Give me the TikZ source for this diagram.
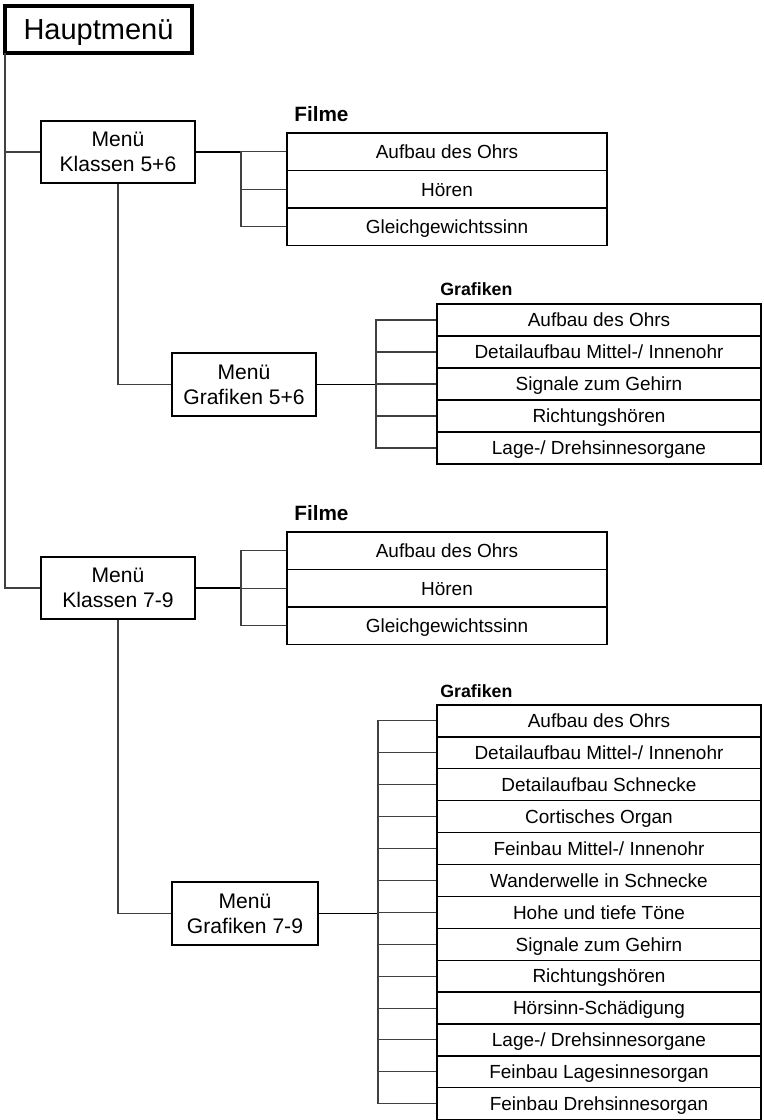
\documentclass[tikz,border=0pt]{standalone}
\usepackage{fontspec}
\setmainfont{Liberation Sans}
\begin{document}
\begin{tikzpicture}[x=0.02cm, y=-0.02cm,
	menu/.style={draw, line width=0.75pt, inner sep=0pt, align=center, font=\fontsize{12}{14.3}\selectfont},
	item/.style={draw, line width=0.7pt, inner sep=0pt, text height=7.7pt, text depth=0pt, font=\fontsize{10.8}{12}\selectfont},
	head/.style={inner sep=0pt, anchor=base west, font=\bfseries\fontsize{#1}{#1}\selectfont},
	link/.style={line width=0.6pt, black!75},
	feed/.style={line width=1.1pt}]
		\useasboundingbox (0,0) rectangle (764,1120);
		
		% Hauptmenue
		\node[draw, line width=2.2pt, outer sep=0pt, minimum width=3.74cm, minimum height=0.94cm, text depth=0pt, font=\fontsize{16.5}{19}\selectfont] (haupt) at (98.5, 29.5) {Hauptmenü};
		
		% Menues
		\node[menu, minimum width=3.08cm, minimum height=1.24cm] (k56) at (118, 152) {Menü\\Klassen 5+6};
		\node[menu, minimum width=2.88cm, minimum height=1.26cm] (g56) at (244, 384.5) {Menü\\Grafiken 5+6};
		\node[menu, minimum width=3.08cm, minimum height=1.24cm] (k79) at (118, 588) {Menü\\Klassen 7-9};
		\node[menu, minimum width=2.92cm, minimum height=1.26cm] (g79) at (245, 913.5) {Menü\\Grafiken 7-9};
		
		% Filme (5+6)
		\node[head=11.8] (filme1) at (294, 121.7) {Filme};
		\foreach \txt [count=\i] in {Aufbau des Ohrs, Hören, Gleichgewichtssinn}
			\node[item, minimum width=6.4cm, minimum height=0.75cm] (fa\i) at (447, 114.25+37.5*\i) {\txt};
		
		% Grafiken (5+6)
		\node[head=10.1] (grafiken1) at (440, 295.5) {Grafiken};
		\foreach \txt [count=\i] in {Aufbau des Ohrs, Detailaufbau Mittel-/ Innenohr, Signale zum Gehirn, Richtungshören, Lage-/ Drehsinnesorgane}
			\node[item, minimum width=6.48cm, minimum height=0.64cm] (ga\i) at (599, 288+32*\i) {\txt};
		
		% Filme (7-9)
		\node[head=11.8] (filme2) at (294, 520) {Filme};
		\foreach \txt [count=\i] in {Aufbau des Ohrs, Hören, Gleichgewichtssinn}
			\node[item, minimum width=6.4cm, minimum height=0.75cm] (fb\i) at (447, 513.25+37.5*\i) {\txt};
		
		% Grafiken (7-9)
		\node[head=10.1] (grafiken2) at (440, 697) {Grafiken};
		\foreach \txt [count=\i] in {Aufbau des Ohrs, Detailaufbau Mittel-/ Innenohr, Detailaufbau Schnecke, Cortisches Organ, Feinbau Mittel-/ Innenohr, Wanderwelle in Schnecke, Hohe und tiefe Töne, Signale zum Gehirn, Richtungshören, Hörsinn-Schädigung, Lage-/ Drehsinnesorgane, Feinbau Lagesinnesorgan, Feinbau Drehsinnesorgan}
			\node[item, minimum width=6.48cm, minimum height=0.638cm] (gb\i) at (599, 689.05+31.9*\i) {\txt};
		
		% Joints
		\coordinate (jfa) at (241, 152);
		\coordinate (jga) at (376, 384.5);
		\coordinate (jfb) at (241, 588);
		\coordinate (jgb) at (378, 913.5);
		
		% Connections
		\draw[link] (haupt.south west) |- (k56.west);
		\draw[link] (haupt.south west) |- (k79.west);
		
		\draw[feed] (k56.east) -- (jfa);
		\foreach \i in {1,2,3}
			\draw[link] (jfa) |- (fa\i.west);
		\draw[link] (k56.south) |- (g56.west);
		\draw[feed] (g56.east) -- (jga);
		\foreach \i in {1,...,5}
			\draw[link] (jga) |- (ga\i.west);
		
		\draw[feed] (k79.east) -- (jfb);
		\foreach \i in {1,2,3}
			\draw[link] (jfb) |- (fb\i.west);
		\draw[link] (k79.south) |- (g79.west);
		\draw[feed] (g79.east) -- (jgb);
		\foreach \i in {1,...,13}
			\draw[link] (jgb) |- (gb\i.west);
	\end{tikzpicture}
\end{document}
